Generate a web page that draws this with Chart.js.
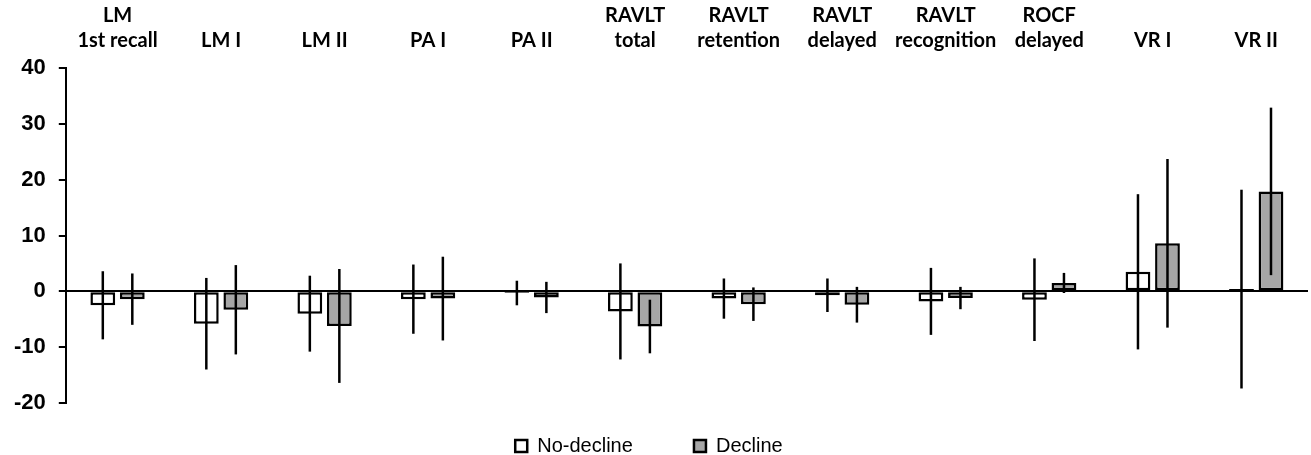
<!DOCTYPE html>
<html lang="en">
<head>
<meta charset="UTF-8">
<script src="https://cdn.jsdelivr.net/npm/chart.js@4/dist/chart.umd.min.js"></script>
<title>Change scores</title>
<style>body{margin:0;background:#fff;}</style>
</head>
<body>
<canvas id="bar-chart" width="1311" height="455"></canvas>

<script>
var labels = [['LM', '1st recall'], 'LM I', 'LM II', 'PA I', 'PA II', ['RAVLT', 'total'], ['RAVLT', 'retention'],
              ['RAVLT', 'delayed'], ['RAVLT', 'recognition'], ['ROCF', 'delayed'], 'VR I', 'VR II'];
var noDecline    = [-2.5, -5.8, -4.0, -1.4, -0.3, -3.6, -1.3, -0.7, -1.8, -1.5, 3.5, 0.4];
var noDeclineErr = [6.1, 8.2, 6.8, 6.2, 2.2, 8.6, 3.6, 3.0, 6.0, 7.4, 13.9, 17.8];
var decline      = [-1.4, -3.3, -6.2, -1.3, -1.1, -6.3, -2.3, -2.4, -1.2, 1.5, 8.6, 17.9];
var declineErr   = [4.6, 8.0, 10.2, 7.5, 2.8, 4.8, 3.0, 3.2, 2.0, 1.8, 15.1, 15.0];
var yMin = -20, yMax = 40, yStep = 10;

var errs = [noDeclineErr, declineErr];

// vertical error lines, no caps
var errorBars = {
    id: 'errorBars',
    afterDatasetsDraw: function(chart) {
        var ctx = chart.ctx, y = chart.scales.y;
        chart.data.datasets.forEach(function(ds, di) {
            chart.getDatasetMeta(di).data.forEach(function(bar, i) {
                var v = ds.data[i], e = errs[di][i];
                ctx.save();
                ctx.strokeStyle = '#000';
                ctx.lineWidth = 2.5;
                ctx.beginPath();
                ctx.moveTo(bar.x, y.getPixelForValue(v + e));
                ctx.lineTo(bar.x, y.getPixelForValue(v - e));
                ctx.stroke();
                ctx.restore();
            });
        });
    }
};

var bar_ctx = document.getElementById('bar-chart').getContext('2d');

var bar_chart = new Chart(bar_ctx, {
    type: 'bar',
    data: {
        labels: labels,
        datasets: [{
            label: 'No-decline',
            data: noDecline,
            backgroundColor: '#ffffff',
            borderColor: '#000000',
            borderWidth: 2.5,
            borderSkipped: false
        }, {
            label: 'Decline',
            data: decline,
            backgroundColor: '#a6a6a6',
            borderColor: '#000000',
            borderWidth: 2.5,
            borderSkipped: false
        }]
    },
    plugins: [errorBars],
    options: {
        responsive: false,
        animation: false,
        categoryPercentage: 0.57,
        barPercentage: 0.84,
        layout: { padding: { left: 1, right: 3, top: 0, bottom: -11 } },
        scales: {
            x: {
                position: 'top',
                grid: { display: false },
                border: { display: false },
                afterFit: function(s) { s.height = 68; },
                ticks: {
                    color: '#000',
                    autoSkip: false,
                    maxRotation: 0,
                    padding: 7,
                    font: { family: 'Lato', weight: 'bold', size: 20, lineHeight: 1.25 }
                }
            },
            // empty spacer between the plot and the legend
            spacer: {
                type: 'category',
                position: 'bottom',
                grid: { display: false },
                border: { display: false },
                ticks: { display: false },
                afterFit: function(s) { s.height = 33; }
            },
            y: {
                min: yMin,
                max: yMax,
                z: 1,
                border: { display: true, color: '#000', width: 2 },
                grid: {
                    color: function(c) { return c.tick && c.tick.value === 0 ? '#000' : 'rgba(0,0,0,0)'; },
                    lineWidth: 2,
                    tickColor: '#000',
                    tickLength: 7,
                    drawTicks: true
                },
                ticks: {
                    stepSize: yStep,
                    color: '#000',
                    padding: 13,
                    font: { family: 'Liberation Sans', weight: 'bold', size: 22 }
                }
            }
        },
        plugins: {
            tooltip: { enabled: false },
            legend: {
                position: 'bottom',
                labels: {
                    color: '#000',
                    boxWidth: 12,
                    boxHeight: 12,
                    padding: 0,
                    font: { family: 'Liberation Sans', size: 20 },
                    generateLabels: function(chart) {
                        var items = Chart.defaults.plugins.legend.labels.generateLabels(chart);
                        items[0].text = items[0].text + '           ';
                        items[1].text = items[1].text + '  ';
                        return items;
                    }
                }
            }
        }
    }
});
</script>
</body>
</html>
